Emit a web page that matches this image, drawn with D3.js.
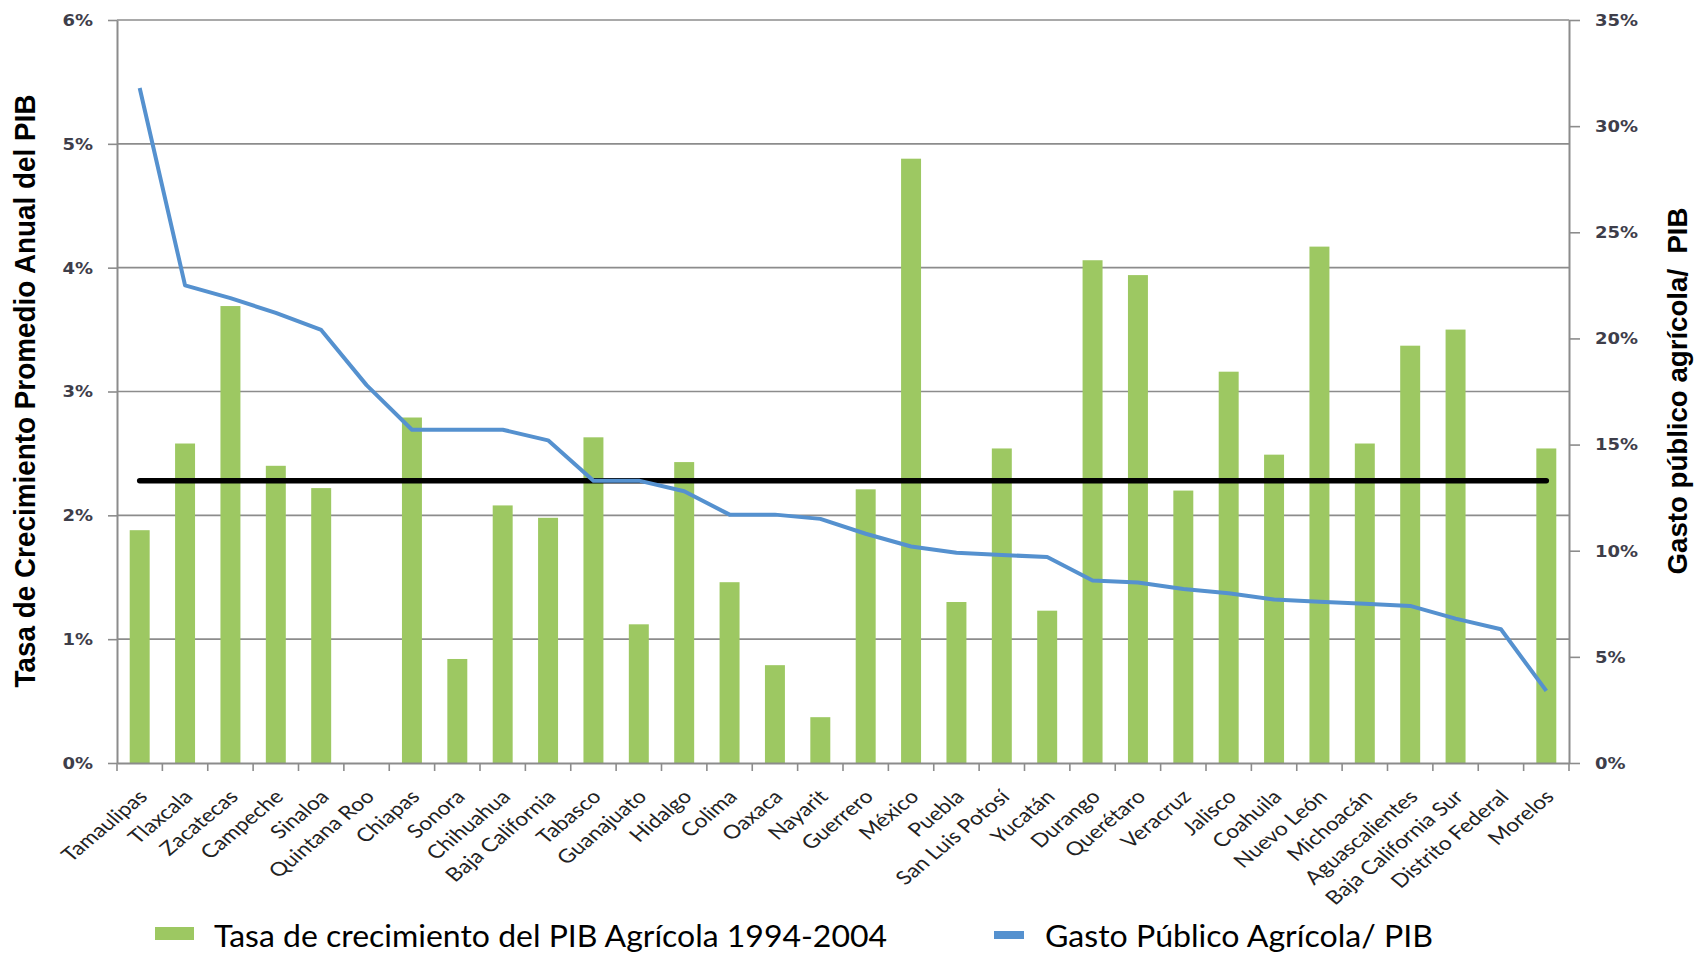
<!DOCTYPE html>
<html><head><meta charset="utf-8">
<script src="https://cdn.jsdelivr.net/npm/d3@7"></script>
<style>body{margin:0;background:#fff} svg{display:block}</style>
</head><body><svg id="c" width="1696" height="953"></svg>
<script>
const categories = ["Tamaulipas","Tlaxcala","Zacatecas","Campeche","Sinaloa","Quintana Roo","Chiapas","Sonora","Chihuahua","Baja California","Tabasco","Guanajuato","Hidalgo","Colima","Oaxaca","Nayarit","Guerrero","México","Puebla","San Luis Potosí","Yucatán","Durango","Querétaro","Veracruz","Jalisco","Coahuila","Nuevo León","Michoacán","Aguascalientes","Baja California Sur","Distrito Federal","Morelos"];
// Tasa de crecimiento del PIB Agrícola 1994-2004 (%), left axis
const growthPIB = [1.88,2.58,3.69,2.40,2.22,null,2.79,0.84,2.08,1.98,2.63,1.12,2.43,1.46,0.79,0.37,2.21,4.88,1.30,2.54,1.23,4.06,3.94,2.20,3.16,2.49,4.17,2.58,3.37,3.50,null,2.54];
// Gasto Público Agrícola / PIB (%), right axis
const gastoPIB = [31.8,22.5,21.9,21.2,20.4,17.8,15.7,15.7,15.7,15.2,13.3,13.3,12.8,11.7,11.7,11.5,10.8,10.2,9.9,9.8,9.7,8.6,8.5,8.2,8.0,7.7,7.6,7.5,7.4,6.8,6.3,3.4];
const promedio = 2.28;
const leftTicks = [0,1,2,3,4,5,6];
const rightTicks = [0,5,10,15,20,25,30,35];
const legendLabels = ["Tasa de crecimiento del PIB Agrícola 1994-2004","Gasto Público Agrícola/ PIB"];
const yTitleLeft = "Tasa de Crecimiento Promedio Anual del PIB";
const yTitleRight = "Gasto público agrícola/  PIB";

const L=117,R=1569,T=20,B=763;
const SX=1.2;
const GREEN="#9DC862", BLUE="#5591CF", GRID="#8c8c8c", TICKC="#3e3e4a";
const svg=d3.select("#c");
const x=d3.scaleBand().domain(categories).range([L,R]).paddingInner(0.56).paddingOuter(0.28);
const yL=d3.scaleLinear().domain([0,6]).range([B,T]);
const yR=d3.scaleLinear().domain([0,35]).range([B,T]);
const cx = c => x(c)+x.bandwidth()/2;

// gridlines
svg.append("g").selectAll("line").data(leftTicks.filter(d=>d>0)).join("line")
  .attr("x1",L).attr("x2",R).attr("y1",d=>yL(d)).attr("y2",d=>yL(d))
  .attr("stroke",GRID).attr("stroke-width",1.6);

// bars
svg.append("g").selectAll("rect")
  .data(categories.map((c,i)=>({c,v:growthPIB[i]})).filter(d=>d.v!=null)).join("rect")
  .attr("x",d=>x(d.c)).attr("width",x.bandwidth())
  .attr("y",d=>yL(d.v)).attr("height",d=>B-yL(d.v)).attr("fill",GREEN);

// left axis
const gL=svg.append("g").attr("transform",`translate(${L},0)`)
  .call(d3.axisLeft(yL).tickValues(leftTicks).tickSizeInner(9).tickSizeOuter(0).tickFormat(d=>d+"%"));
gL.select(".domain").attr("stroke",GRID).attr("stroke-width",2);
gL.selectAll(".tick line").attr("stroke",GRID).attr("stroke-width",1.6);
gL.selectAll(".tick text").attr("x",null).attr("dy","0.36em")
  .attr("transform",`translate(-24,0) scale(${SX},1)`)
  .attr("text-anchor","end").attr("fill",TICKC)
  .style("font-family","DejaVu Sans").style("font-weight","bold").style("font-size","15px");

// right axis
const gR=svg.append("g").attr("transform",`translate(${R},0)`)
  .call(d3.axisRight(yR).tickValues(rightTicks).tickSizeInner(11).tickSizeOuter(0).tickFormat(d=>d+"%"));
gR.select(".domain").attr("stroke",GRID).attr("stroke-width",2);
gR.selectAll(".tick line").attr("stroke",GRID).attr("stroke-width",1.6);
gR.selectAll(".tick text").attr("x",null).attr("dy","0.36em")
  .attr("transform",`translate(26,0) scale(${SX},1)`)
  .attr("text-anchor","start").attr("fill",TICKC)
  .style("font-family","DejaVu Sans").style("font-weight","bold").style("font-size","15px");

// x axis
const gX=svg.append("g").attr("transform",`translate(0,${B})`)
  .call(d3.axisBottom(x).tickSizeInner(0).tickSizeOuter(0));
gX.select(".domain").attr("stroke",GRID).attr("stroke-width",2);
gX.selectAll(".tick text").attr("y",null).attr("dy","0")
  .attr("transform",`translate(9,35) scale(${SX},1) rotate(-45)`)
  .attr("text-anchor","end").attr("fill","#222")
  .style("font-family","Lato").style("font-size","19px");
// category boundary ticks
svg.append("g").selectAll("line").data(d3.range(categories.length+1)).join("line")
  .attr("x1",i=>L+i*x.step()).attr("x2",i=>L+i*x.step())
  .attr("y1",B).attr("y2",B+8).attr("stroke",GRID).attr("stroke-width",1.6);

// average line
svg.append("path")
  .datum([categories[0],categories[categories.length-1]])
  .attr("d",d3.line().x(c=>cx(c)).y(()=>yL(promedio)))
  .attr("stroke","#000").attr("stroke-width",5.5).attr("stroke-linecap","round").attr("fill","none");

// blue line
svg.append("path")
  .datum(categories.map((c,i)=>({c,v:gastoPIB[i]})))
  .attr("d",d3.line().x(d=>cx(d.c)).y(d=>yR(d.v)))
  .attr("stroke",BLUE).attr("stroke-width",4).attr("stroke-linejoin","round").attr("fill","none");

// axis titles
svg.append("text").text(yTitleLeft)
  .attr("transform",`translate(35,391) scale(${SX},1) rotate(-90)`)
  .attr("text-anchor","middle").attr("textLength",593).attr("lengthAdjust","spacingAndGlyphs")
  .style("font-family","Liberation Sans").style("font-weight","bold").style("font-size","25px").attr("fill","#000");
svg.append("text").text(yTitleRight)
  .attr("transform",`translate(1687,391) scale(${SX},1) rotate(-90)`)
  .attr("text-anchor","middle").attr("textLength",367).attr("lengthAdjust","spacingAndGlyphs")
  .style("white-space","pre")
  .style("font-family","Liberation Sans").style("font-weight","bold").style("font-size","23px").attr("fill","#000");

// legend
const leg=svg.append("g");
leg.append("rect").attr("x",155).attr("y",927).attr("width",39).attr("height",13).attr("fill",GREEN);
leg.append("text").text(legendLabels[0]).attr("x",214).attr("y",947)
  .attr("textLength",673).attr("lengthAdjust","spacingAndGlyphs")
  .style("font-family","Lato").style("font-size","30px").attr("fill","#000");
leg.append("rect").attr("x",994).attr("y",931).attr("width",30).attr("height",8).attr("fill",BLUE);
leg.append("text").text(legendLabels[1]).attr("x",1045).attr("y",947)
  .attr("textLength",388).attr("lengthAdjust","spacingAndGlyphs")
  .style("font-family","Lato").style("font-size","30px").attr("fill","#000");
</script></body></html>
